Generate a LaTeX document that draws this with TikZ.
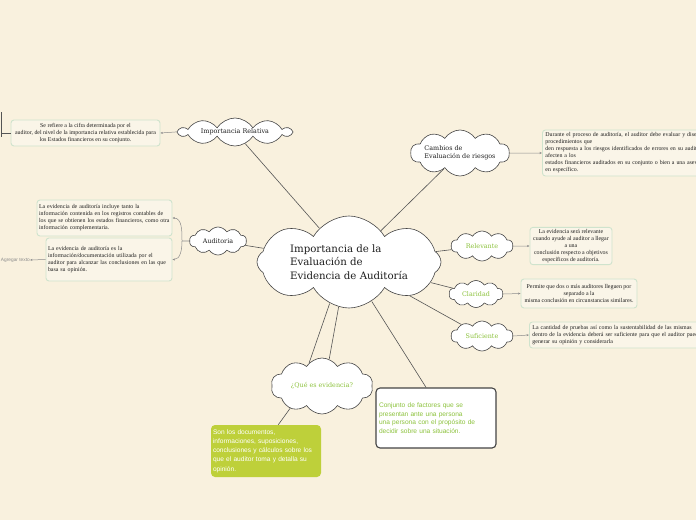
\documentclass[tikz,border=0pt]{standalone}
\usepackage{fontspec}
\setmainfont{DejaVu Serif}
\newfontfamily\boxserif{Liberation Serif}
\newfontfamily\boxsans{Liberation Sans}
\usetikzlibrary{shapes.symbols,arrows.meta}
\definecolor{bg}{RGB}{249,241,222}
\definecolor{boxfill}{RGB}{250,245,232}
\definecolor{boxline}{RGB}{207,227,205}
\definecolor{cloudline}{RGB}{68,68,68}
\definecolor{linkc}{RGB}{85,85,85}
\definecolor{arrowc}{RGB}{140,140,140}
\definecolor{greentext}{RGB}{140,194,60}
\definecolor{greenfill}{RGB}{190,208,58}
\definecolor{txt}{RGB}{30,30,30}
\tikzset{
  cloudnode/.style={cloud, cloud puffs=10, cloud puff arc=115, cloud ignores aspect, draw=cloudline, fill=white, line width=0.6pt, inner sep=0pt, font=\fontsize{6.4}{7.5}\selectfont, text=txt},
  greenlabel/.style={text=greentext},
  infobox/.style={draw=boxline, fill=boxfill, line width=0.9pt, rounded corners=3pt, inner sep=2pt, font=\boxserif\fontsize{5.9}{7}\selectfont, text=txt},
  link/.style={draw=linkc, line width=0.6pt},
  arrowlink/.style={draw=arrowc, line width=0.5pt, -{Stealth[length=2.5pt,width=2pt]}},
}
\begin{document}
\begin{tikzpicture}[x=1pt,y=-1pt]
\fill[bg] (0,0) rectangle (696,520);
\useasboundingbox (0,0) rectangle (696,520);

% main cloud
\node[cloudnode, cloud puffs=8, cloud puff arc=120, minimum width=184pt, minimum height=92pt, font=\fontsize{10.2}{13.5}\selectfont, align=left] (main) at (349,262) {Importancia de la\\Evaluación de\\Evidencia de Auditoría};

% secondary clouds
\node[cloudnode, minimum width=112pt, minimum height=28pt] (imprel) at (235,132) {Importancia Relativa};
\node[cloudnode, minimum width=98pt, minimum height=46pt, align=left] (camb) at (460,153) {Cambios de\\Evaluación de riesgos};
\node[cloudnode, minimum width=57pt, minimum height=28pt] (aud) at (218,241) {Auditoria};
\node[cloudnode, greenlabel, minimum width=62pt, minimum height=30pt] (rel) at (482,246) {Relevante};
\node[cloudnode, greenlabel, minimum width=54pt, minimum height=27pt] (clar) at (476,294) {Claridad};
\node[cloudnode, greenlabel, minimum width=62pt, minimum height=30pt] (suf) at (482,336) {Suficiente};
\node[cloudnode, greenlabel, minimum width=102pt, minimum height=56pt] (que) at (322,386) {¿Qué es evidencia?};

% info boxes
\node[infobox, minimum width=149pt, minimum height=26pt, align=center] (irbox) at (85.5,133) {Se refiere a la cifra determinada por el\\auditor, del nivel de la importancia relativa establecida para\\los Estados financieros en su conjunto.};
\node[infobox, anchor=west, minimum width=200pt, minimum height=46pt, text width=194pt, align=left] (cambox) at (542,153) {Durante el proceso de auditoría, el auditor debe evaluar y diseñar\\procedimientos que\\den respuesta a los riesgos identificados de errores en su auditoría que\\afecten a los\\estados financieros auditados en su conjunto o bien a una aseveración\\en específico.};
\node[infobox, minimum width=135pt, minimum height=36pt, text width=131pt, inner xsep=2pt, align=left] (audbox1) at (104.5,218) {La evidencia de auditoría incluye tanto la\\información contenida en los registros contables de\\los que se obtienen los estados financieros, como otra\\información complementaria.};
\node[infobox, minimum width=126pt, minimum height=43pt, text width=122pt, align=left] (audbox2) at (109,259.5) {La evidencia de auditoría es la\\información/documentación utilizada por el\\auditor para alcanzar las conclusiones en las que\\basa su opinión.};
\node[infobox, minimum width=82pt, minimum height=36pt, align=center] (relbox) at (571,246) {La evidencia será relevante\\cuando ayude al auditor a llegar\\a una\\conclusión respecto a objetivos\\específicos de auditoría.};
\node[infobox, minimum width=116pt, minimum height=29pt, align=center] (clarbox) at (579,293.5) {Permite que dos o más auditores lleguen por\\separado a la\\misma conclusión en circunstancias similares.};
\node[infobox, anchor=west, minimum width=200pt, minimum height=26pt, text width=194pt, align=left] (sufbox) at (529,335) {La cantidad de pruebas así como la sustentabilidad de las mismas\\dentro de la evidencia deberá ser suficiente para que el auditor pueda\\generar su opinión y considerarla};

% green box
\node[fill=greenfill, rounded corners=4pt, minimum width=110pt, minimum height=52pt, text width=106pt, inner sep=2pt, align=left, text=white, font=\boxsans\fontsize{6.6}{9.2}\selectfont] (green) at (266,451) {Son los documentos,\\informaciones, suposiciones,\\conclusiones y cálculos sobre los\\que el auditor toma y detalla su\\opinión.};

% conjunto box
\node[draw=cloudline, fill=white, line width=1.1pt, rounded corners=4pt, minimum width=120pt, minimum height=60pt, text width=114pt, inner sep=3pt, align=left, text=greentext, font=\boxsans\fontsize{6.6}{8.5}\selectfont] (conj) at (436,418) {Conjunto de factores que se\\presentan ante una persona\\una persona con el propósito de\\decidir sobre una situación.};

% agregar texto
\node[anchor=east, inner sep=0pt, text=arrowc, font=\boxsans\fontsize{4.8}{5}\selectfont] (agr) at (30,260) {Agregar texto};

% links from main
\draw[link] (main) -- (imprel);
\draw[link] (main) -- (camb);
\draw[link] (main) -- (aud);
\draw[link] (main) -- (rel);
\draw[link] (main) -- (clar);
\draw[link] (main) -- (suf);
\draw[link] (main.245) -- (que.119);
\draw[link] (main.257) -- (que.75);
\draw[link] (main.-60) -- (conj.108);
\draw[link] (que.215) -- (green.65);

% arrows to boxes
\draw[arrowlink] (imprel.west) -- (irbox.east);
\draw[arrowlink] (camb.east) -- (cambox.west);
\draw[arrowlink] (rel.east) -- (relbox.west);
\draw[arrowlink] (clar.east) -- (clarbox.west);
\draw[arrowlink] (suf.east) -- (sufbox.west);
\draw[arrowlink] (audbox2.west) -- (agr.east);

% auditoria bracket
\coordinate (audfork) at (182,241);
\draw[link, draw=arrowc] (aud.west) -- (audfork);
\draw[arrowlink] (audfork) to[out=90,in=0] (audbox1.east);
\draw[arrowlink] (audfork) to[out=-90,in=0] (audbox2.east);

% left bracket off-page
\coordinate (irleft) at (1,133);
\coordinate (irtop) at (1,112);
\coordinate (irbot) at (1,137);
\draw[link] (irbox.west) -- (irleft);
\draw[link] (irtop) -- (irbot);
\end{tikzpicture}
\end{document}
